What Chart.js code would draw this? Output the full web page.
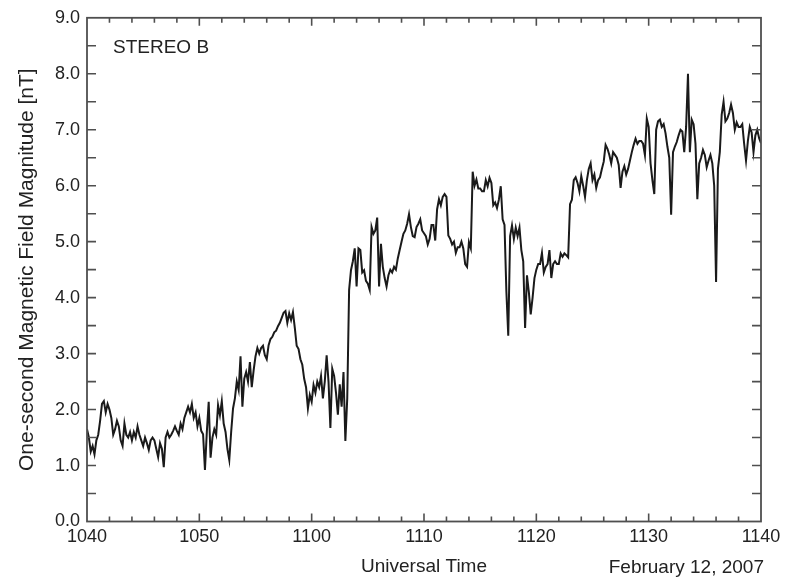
<!DOCTYPE html>
<html>
<head>
<meta charset="utf-8">
<title>STEREO B – One-second Magnetic Field Magnitude</title>
<script src="https://cdn.jsdelivr.net/npm/chart.js@4.4.1/dist/chart.umd.min.js"></script>
<style>
  html, body { margin: 0; padding: 0; background: #ffffff; }
  #wrap { width: 806px; height: 579px; }
</style>
</head>
<body>
<div id="wrap"><canvas id="chart" width="806" height="579"></canvas></div>
<script>
// Time axis: minutes after 10:40 UT, labelled in HHMM.
const tickMinutes = [0, 10, 20, 30, 40, 50, 60];
const tickLabels = ['1040', '1050', '1100', '1110', '1120', '1130', '1140'];
const yTickLabels = ['0.0', '1.0', '2.0', '3.0', '4.0', '5.0', '6.0', '7.0', '8.0', '9.0'];

// |B| in nT, one sample every 10 s; each row is one minute, 10:40 through 11:40.
const sampleSeconds = 10;
const fieldMagnitude = [
  1.65, 1.50, 1.25, 1.35, 1.20, 1.45,   // 1040
  1.55, 1.80, 2.10, 2.15, 1.95, 2.10,
  2.00, 1.85, 1.55, 1.65, 1.80, 1.70,
  1.45, 1.35, 1.75, 1.55, 1.50, 1.60,
  1.45, 1.60, 1.50, 1.70, 1.55, 1.45,
  1.35, 1.50, 1.40, 1.28, 1.45, 1.50,   // 1045
  1.45, 1.30, 1.15, 1.40, 1.30, 0.97,
  1.50, 1.60, 1.50, 1.55, 1.62, 1.70,
  1.62, 1.55, 1.75, 1.65, 1.85, 1.95,
  2.05, 1.95, 2.10, 1.85, 1.95, 1.70,
  1.85, 1.62, 1.56, 0.92, 1.60, 2.14,   // 1050
  1.14, 1.50, 1.65, 1.55, 2.08, 1.90,
  2.15, 1.75, 1.60, 1.30, 1.10, 1.60,
  2.02, 2.20, 2.50, 2.35, 2.95, 2.05,
  2.55, 2.67, 2.50, 2.85, 2.40, 2.70,
  2.95, 3.10, 3.00, 3.10, 3.14, 2.97,   // 1055
  2.90, 3.15, 3.26, 3.30, 3.38, 3.41,
  3.49, 3.55, 3.64, 3.73, 3.76, 3.55,
  3.72, 3.60, 3.74, 3.46, 3.14, 3.08,
  2.90, 2.80, 2.55, 2.40, 2.02, 2.26,
  2.14, 2.44, 2.30, 2.50, 2.40, 2.60,   // 1100
  2.20, 2.50, 2.97, 2.50, 1.67, 2.73,
  2.60, 2.30, 1.91, 2.45, 2.05, 2.67,
  1.44, 2.20, 4.14, 4.49, 4.65, 4.88,
  4.20, 4.88, 4.85, 4.45, 4.49, 4.30,
  4.25, 4.14, 5.26, 5.14, 5.20, 5.43,   // 1105
  4.20, 4.96, 4.55, 4.35, 4.20, 4.40,
  4.50, 4.45, 4.55, 4.50, 4.70, 4.85,
  5.00, 5.14, 5.20, 5.32, 5.49, 5.26,
  5.10, 5.08, 5.26, 5.32, 5.40, 5.20,
  5.15, 5.10, 4.95, 5.05, 5.30, 5.30,   // 1110
  5.02, 5.58, 5.76, 5.65, 5.80, 5.85,
  5.80, 5.11, 5.05, 4.95, 5.00, 4.80,
  4.90, 4.90, 5.00, 4.88, 4.60, 4.55,
  4.99, 4.88, 6.25, 6.00, 6.11, 5.95,
  5.95, 5.90, 5.90, 6.10, 5.99, 6.14,   // 1115
  6.05, 5.65, 5.70, 5.60, 5.75, 5.99,
  5.40, 5.30, 4.11, 3.32, 5.10, 5.29,
  5.05, 5.25, 5.10, 5.25, 4.85, 4.65,
  3.46, 4.40, 4.10, 3.70, 4.00, 4.35,
  4.50, 4.60, 4.60, 4.80, 4.45, 4.55,   // 1120
  4.60, 4.85, 4.35, 4.60, 4.65, 4.60,
  4.60, 4.79, 4.73, 4.79, 4.76, 4.72,
  5.67, 5.75, 6.10, 6.15, 6.05, 5.90,
  6.17, 6.00, 5.80, 6.10, 6.30, 6.40,
  6.10, 6.20, 5.96, 6.10, 6.15, 6.30,   // 1125
  6.43, 6.73, 6.66, 6.55, 6.40, 6.60,
  6.55, 6.50, 6.37, 5.96, 6.25, 6.35,
  6.20, 6.30, 6.45, 6.60, 6.73, 6.84,
  6.75, 6.80, 6.80, 6.75, 6.55, 7.20,
  7.05, 6.40, 6.10, 5.85, 7.00, 7.15,   // 1130
  7.18, 7.05, 7.10, 6.94, 6.70, 6.50,
  5.48, 6.60, 6.70, 6.78, 6.90, 7.00,
  6.97, 6.60, 7.05, 8.00, 6.60, 7.18,
  7.10, 6.75, 5.76, 6.40, 6.50, 6.64,
  6.55, 6.33, 6.45, 6.55, 6.40, 6.00,   // 1135
  4.28, 6.30, 6.60, 7.27, 7.50, 7.15,
  7.20, 7.30, 7.45, 7.30, 7.00, 7.13,
  7.05, 7.05, 7.10, 6.75, 6.45, 6.80,
  7.05, 6.95, 6.60, 6.90, 7.00, 6.85,
  6.76                                   // 1140
];

const FONT = '"Liberation Sans", Arial, Helvetica, sans-serif';
const TEXT = '#222222';
const AXIS = '#4f4f4f';

const points = fieldMagnitude.map((b, i) => ({ x: i * sampleSeconds / 60, y: b }));

// Box frame with inward IDL-style tick marks on all four sides, plus the panel annotations.
const framePlugin = {
  id: 'frame',
  afterDatasetsDraw(chart) {
    const { ctx, chartArea: a, scales: { x, y } } = chart;
    ctx.save();
    ctx.strokeStyle = AXIS;
    ctx.lineWidth = 1.6;
    ctx.beginPath();
    for (let m = 2; m < 60; m += 2) {
      const px = x.getPixelForValue(m);
      const len = (m % 10 === 0) ? 8 : 5;
      ctx.moveTo(px, a.bottom); ctx.lineTo(px, a.bottom - len);
      ctx.moveTo(px, a.top);    ctx.lineTo(px, a.top + len);
    }
    for (let v = 0.5; v < 9; v += 0.5) {
      const py = y.getPixelForValue(v);
      ctx.moveTo(a.left, py);  ctx.lineTo(a.left + 9, py);
      ctx.moveTo(a.right, py); ctx.lineTo(a.right - 9, py);
    }
    ctx.stroke();
    ctx.lineWidth = 1.8;
    ctx.strokeRect(a.left, a.top, a.right - a.left, a.bottom - a.top);

    ctx.fillStyle = TEXT;
    ctx.font = '19px ' + FONT;
    ctx.textBaseline = 'alphabetic';
    ctx.textAlign = 'left';
    ctx.fillText('STEREO B', 113, 52.5);
    ctx.textAlign = 'right';
    ctx.fillText('February 12, 2007', 764, 572.5);
    ctx.restore();
  }
};

new Chart(document.getElementById('chart'), {
  type: 'line',
  data: {
    datasets: [{
      data: points,
      borderColor: '#1a1a1a',
      borderWidth: 2,
      pointRadius: 0,
      tension: 0,
      fill: false
    }]
  },
  options: {
    responsive: false,
    animation: false,
    devicePixelRatio: 1,
    layout: { padding: { left: 0, right: 45, top: 11, bottom: 0 } },
    plugins: { legend: { display: false }, tooltip: { enabled: false } },
    scales: {
      x: {
        type: 'linear',
        min: 0,
        max: 60,
        grid: { display: false, drawTicks: false },
        border: { display: false },
        afterBuildTicks: (s) => { s.ticks = tickMinutes.map(v => ({ value: v })); },
        ticks: {
          autoSkip: false,
          maxRotation: 0,
          padding: 5,
          color: TEXT,
          font: { family: FONT, size: 18 },
          callback: (v) => tickLabels[tickMinutes.indexOf(v)]
        },
        title: {
          display: true,
          text: 'Universal Time',
          color: TEXT,
          font: { family: FONT, size: 19 },
          padding: { top: 0, bottom: 1 }
        },
        afterFit: (s) => { s.height = 57.5; }
      },
      y: {
        type: 'linear',
        min: 0,
        max: 9,
        grid: { display: false, drawTicks: false },
        border: { display: false },
        ticks: {
          stepSize: 1,
          padding: 7,
          color: TEXT,
          font: { family: FONT, size: 18 },
          callback: (v) => yTickLabels[Math.round(v)]
        },
        title: {
          display: true,
          text: 'One-second Magnetic Field Magnitude [nT]',
          color: TEXT,
          font: { family: FONT, size: 21 },
          padding: { top: 15, bottom: 0 }
        },
        afterFit: (s) => { s.width = 87; }
      }
    }
  },
  plugins: [framePlugin]
});
</script>
</body>
</html>
